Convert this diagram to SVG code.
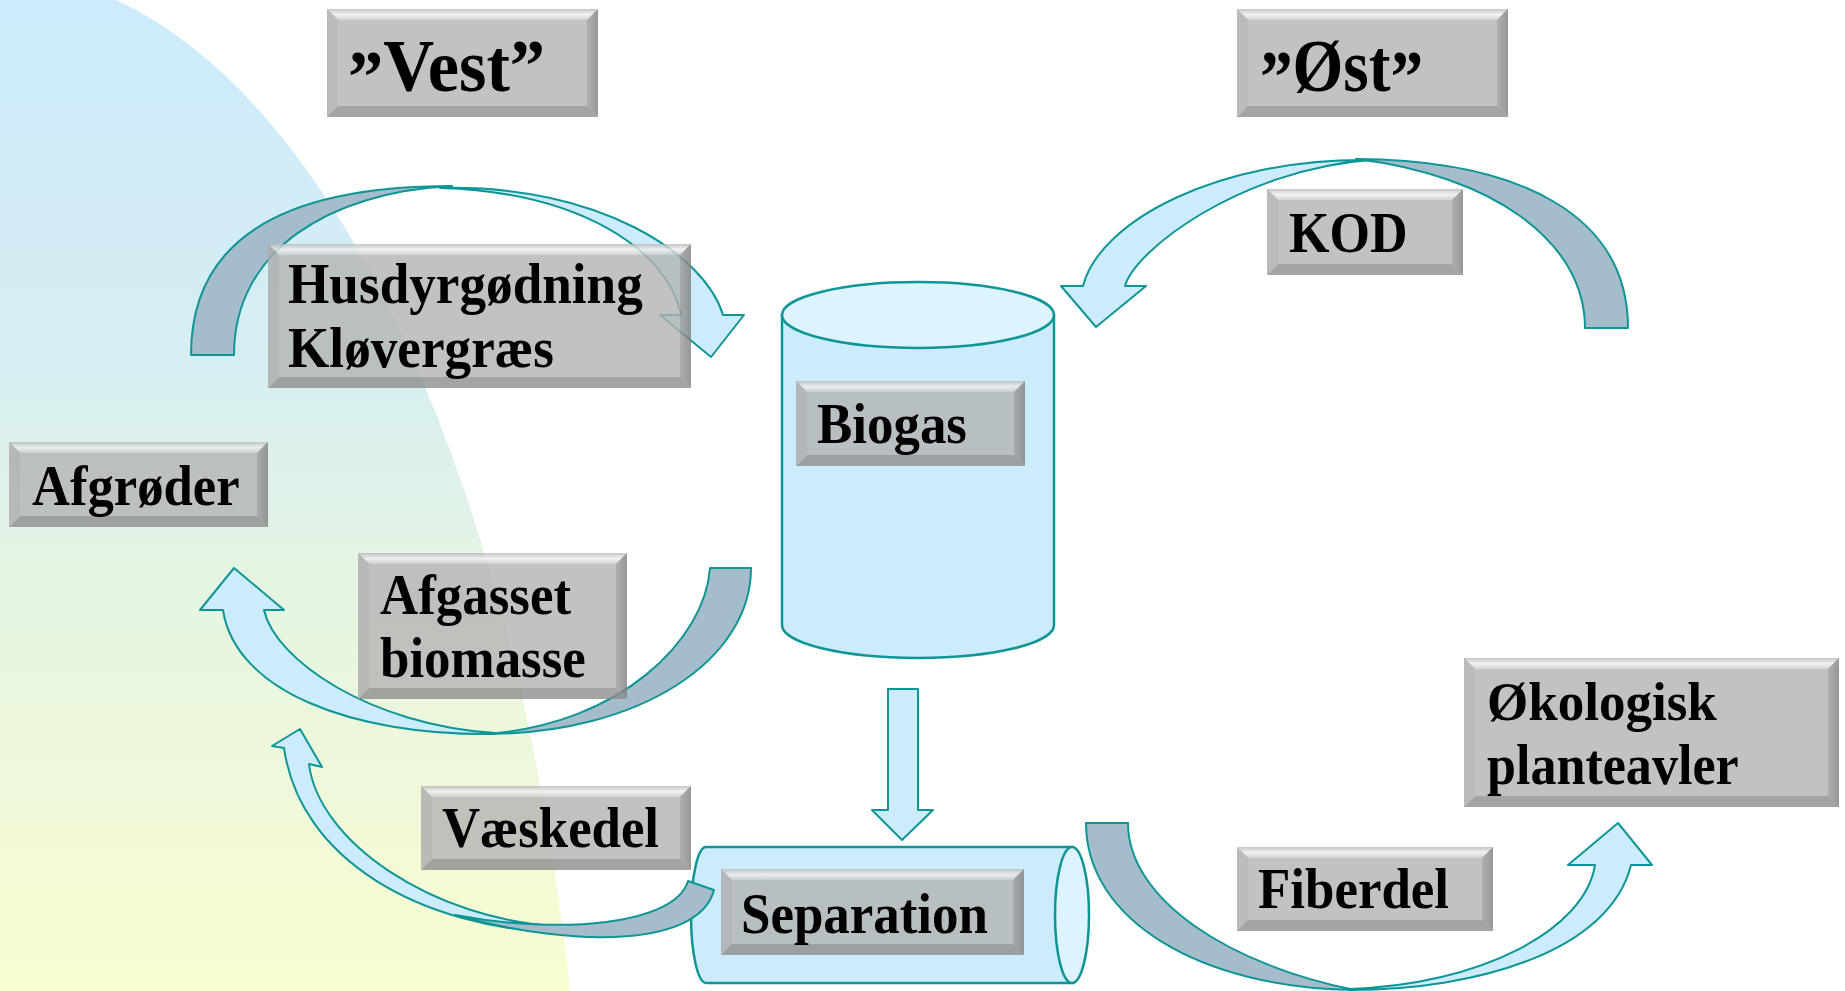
<svg xmlns="http://www.w3.org/2000/svg" width="1845" height="991" viewBox="0 0 1845 991">
<defs>
<style>
.t{font-family:"Liberation Serif","Times New Roman",serif;font-weight:bold;font-size:56px;fill:#000}
.tb{font-size:75px}
.bx{fill:#B4B4B4}
.bt{fill:url(#gTop)}
.br{fill:url(#gRight)}
.bb{fill:#8E8E8E}
.bl{fill:#ABABAB}
.box{opacity:0.8}
.dk{fill:#A5BDCB;stroke:#0E9696;stroke-width:2;stroke-linejoin:round}
.lt{fill:#CCECFC;stroke:#0E9696;stroke-width:2;stroke-linejoin:round}
.cyl{fill:#CCECFC;stroke:#0E9696;stroke-width:2.5}
.cap{fill:#DDF3FD;stroke:#0E9696;stroke-width:2.5}
</style>
<linearGradient id="bgG" gradientUnits="userSpaceOnUse" x1="0" y1="0" x2="0" y2="991">
<stop offset="0" stop-color="#CDEBFB"/>
<stop offset="0.35" stop-color="#D5EEF3"/>
<stop offset="0.6" stop-color="#E6F5E2"/>
<stop offset="1" stop-color="#F8FCD0"/>
</linearGradient>
<linearGradient id="gTop" x1="0" y1="0" x2="0" y2="1">
<stop offset="0" stop-color="#B8B8B8"/>
<stop offset="0.5" stop-color="#EEEEEE"/>
<stop offset="1" stop-color="#C8C8C8"/>
</linearGradient>
<linearGradient id="gRight" x1="0" y1="0" x2="1" y2="0">
<stop offset="0" stop-color="#9C9C9C"/>
<stop offset="1" stop-color="#7E7E7E"/>
</linearGradient>
</defs>
<rect width="1845" height="991" fill="#FFFFFF"/>
<path id="background" d="M 0,0 L 116,0 A 586,1326 0 0 1 570,991 L 0,991 Z" fill="url(#bgG)"/>

<g id="node-biogas">
<path class="cyl" d="M 782,315 V 625 A 136,33 0 0 0 1054,625 V 315 Z"/>
<ellipse class="cap" cx="918" cy="315" rx="136" ry="33"/>
<g class="box">
<rect class="bx" x="796" y="381" width="229" height="85"/>
<polygon class="bt" points="796,381 1025,381 1014,392 807,392"/>
<polygon class="br" points="1025,381 1025,466 1014,455 1014,392"/>
<polygon class="bb" points="796,466 1025,466 1014,455 807,455"/>
<polygon class="bl" points="796,381 807,392 807,455 796,466"/>
</g>
<text class="t" transform="translate(817,443) scale(0.945,1)">Biogas</text>
</g>

<g id="node-separation">
<path class="cyl" d="M 1072,847 H 706 A 15,68 0 0 0 706,983 H 1072 Z"/>
<ellipse class="cap" cx="1072" cy="915" rx="17" ry="68"/>
<g class="box">
<rect class="bx" x="721" y="869" width="303" height="86"/>
<polygon class="bt" points="721,869 1024,869 1013,880 732,880"/>
<polygon class="br" points="1024,869 1024,955 1013,944 1013,880"/>
<polygon class="bb" points="721,955 1024,955 1013,944 732,944"/>
<polygon class="bl" points="721,869 732,880 732,944 721,955"/>
</g>
<text class="t" transform="translate(741,933) scale(0.945,1)">Separation</text>
</g>

<g id="connectors">
<!-- Vest arc -->
<path class="dk" d="M 191,355 C 191,235 290,186 452,186 C 330,192 234,250 234,355 Z"/>
<path class="lt" d="M 440,188 C 600,184 705,255 723,315 L 744,315 L 711,357 L 660,315 L 681,315 C 668,250 580,192 440,188 Z"/>
<!-- KOD arc -->
<path class="dk" d="M 1628,328 C 1628,215 1520,160 1356,159 C 1490,175 1585,240 1585,328 Z"/>
<path class="lt" d="M 1370,160 C 1220,158 1100,220 1083,286 L 1061,286 L 1096,327 L 1146,286 L 1125,286 C 1135,250 1240,170 1370,160 Z"/>
<!-- Afgasset biomasse arc -->
<path class="lt" d="M 495,734 C 350,736 235,690 223,610 L 200,610 L 234,568 L 284,610 L 264,610 C 275,660 370,725 495,733 Z"/>
<path class="dk" d="M 751,568 C 751,660 640,734 485,734 C 620,725 705,640 710,568 Z"/>
<!-- Vaeskedel arc -->
<path class="lt" d="M 563,933 C 420,928 300,860 284,748 L 272,746 L 300,729 L 322,767 L 309,764 C 318,840 430,920 563,927 Z"/>
<path class="dk" d="M 714,890 C 700,945 580,950 455,915 C 560,935 675,925 688,881 Z"/>
<!-- Fiberdel arc -->
<path class="dk" d="M 1086,823 C 1086,920 1200,988 1355,990 C 1230,965 1128,900 1128,823 Z"/>
<path class="lt" d="M 1349,990 C 1480,990 1610,950 1631,865 L 1652,865 L 1618,823 L 1568,865 L 1595,865 C 1585,930 1480,985 1349,989 Z"/>
<!-- Biogas to Separation -->
<polygon class="lt" points="888,689 918,689 918,810 933,810 902,840 872,810 888,810"/>
</g>

<g id="node-vest">
<g class="box">
<rect class="bx" x="327" y="9" width="271" height="108"/>
<polygon class="bt" points="327,9 598,9 587,20 338,20"/>
<polygon class="br" points="598,9 598,117 587,106 587,20"/>
<polygon class="bb" points="327,117 598,117 587,106 338,106"/>
<polygon class="bl" points="327,9 338,20 338,106 327,117"/>
</g>
<text class="t tb" transform="translate(348,91) scale(0.94,1)"><tspan dy="11">”</tspan><tspan dy="-11">Vest”</tspan></text>
</g>

<g id="node-ost">
<g class="box">
<rect class="bx" x="1237" y="9" width="271" height="108"/>
<polygon class="bt" points="1237,9 1508,9 1497,20 1248,20"/>
<polygon class="br" points="1508,9 1508,117 1497,106 1497,20"/>
<polygon class="bb" points="1237,117 1508,117 1497,106 1248,106"/>
<polygon class="bl" points="1237,9 1248,20 1248,106 1237,117"/>
</g>
<text class="t tb" transform="translate(1260,91) scale(0.87,1)"><tspan dy="11">”</tspan><tspan dy="-11">Øst</tspan><tspan dy="11">”</tspan></text>
</g>

<g id="node-kod">
<g class="box">
<rect class="bx" x="1267" y="189" width="196" height="86"/>
<polygon class="bt" points="1267,189 1463,189 1452,200 1278,200"/>
<polygon class="br" points="1463,189 1463,275 1452,264 1452,200"/>
<polygon class="bb" points="1267,275 1463,275 1452,264 1278,264"/>
<polygon class="bl" points="1267,189 1278,200 1278,264 1267,275"/>
</g>
<text class="t" transform="translate(1289,252) scale(0.93,1)">KOD</text>
</g>

<g id="node-husdyr">
<g class="box">
<rect class="bx" x="268" y="244" width="423" height="144"/>
<polygon class="bt" points="268,244 691,244 680,255 279,255"/>
<polygon class="br" points="691,244 691,388 680,377 680,255"/>
<polygon class="bb" points="268,388 691,388 680,377 279,377"/>
<polygon class="bl" points="268,244 279,255 279,377 268,388"/>
</g>
<text class="t" transform="translate(288,303) scale(0.95,1)">Husdyrgødning</text>
<text class="t" transform="translate(288,367) scale(0.95,1)">Kløvergræs</text>
</g>

<g id="node-afgroder">
<g class="box">
<rect class="bx" x="9" y="442" width="259" height="85"/>
<polygon class="bt" points="9,442 268,442 257,453 20,453"/>
<polygon class="br" points="268,442 268,527 257,516 257,453"/>
<polygon class="bb" points="9,527 268,527 257,516 20,516"/>
<polygon class="bl" points="9,442 20,453 20,516 9,527"/>
</g>
<text class="t" transform="translate(32,505) scale(0.94,1)">Afgrøder</text>
</g>

<g id="node-afgasset">
<g class="box">
<rect class="bx" x="358" y="553" width="269" height="146"/>
<polygon class="bt" points="358,553 627,553 616,564 369,564"/>
<polygon class="br" points="627,553 627,699 616,688 616,564"/>
<polygon class="bb" points="358,699 627,699 616,688 369,688"/>
<polygon class="bl" points="358,553 369,564 369,688 358,699"/>
</g>
<text class="t" transform="translate(380,614) scale(0.945,1)">Afgasset</text>
<text class="t" transform="translate(380,677) scale(0.945,1)">biomasse</text>
</g>

<g id="node-vaeskedel">
<g class="box">
<rect class="bx" x="421" y="786" width="270" height="84"/>
<polygon class="bt" points="421,786 691,786 680,797 432,797"/>
<polygon class="br" points="691,786 691,870 680,859 680,797"/>
<polygon class="bb" points="421,870 691,870 680,859 432,859"/>
<polygon class="bl" points="421,786 432,797 432,859 421,870"/>
</g>
<text class="t" transform="translate(442,847) scale(0.943,1)">Væskedel</text>
</g>

<g id="node-fiberdel">
<g class="box">
<rect class="bx" x="1237" y="847" width="256" height="84"/>
<polygon class="bt" points="1237,847 1493,847 1482,858 1248,858"/>
<polygon class="br" points="1493,847 1493,931 1482,920 1482,858"/>
<polygon class="bb" points="1237,931 1493,931 1482,920 1248,920"/>
<polygon class="bl" points="1237,847 1248,858 1248,920 1237,931"/>
</g>
<text class="t" transform="translate(1258,908) scale(0.945,1)">Fiberdel</text>
</g>

<g id="node-okologisk">
<g class="box">
<rect class="bx" x="1464" y="658" width="375" height="149"/>
<polygon class="bt" points="1464,658 1839,658 1828,669 1475,669"/>
<polygon class="br" points="1839,658 1839,807 1828,796 1828,669"/>
<polygon class="bb" points="1464,807 1839,807 1828,796 1475,796"/>
<polygon class="bl" points="1464,658 1475,669 1475,796 1464,807"/>
</g>
<text class="t" transform="translate(1487,720) scale(0.947,1)">Økologisk</text>
<text class="t" transform="translate(1487,784) scale(0.93,1)">planteavler</text>
</g>
</svg>
